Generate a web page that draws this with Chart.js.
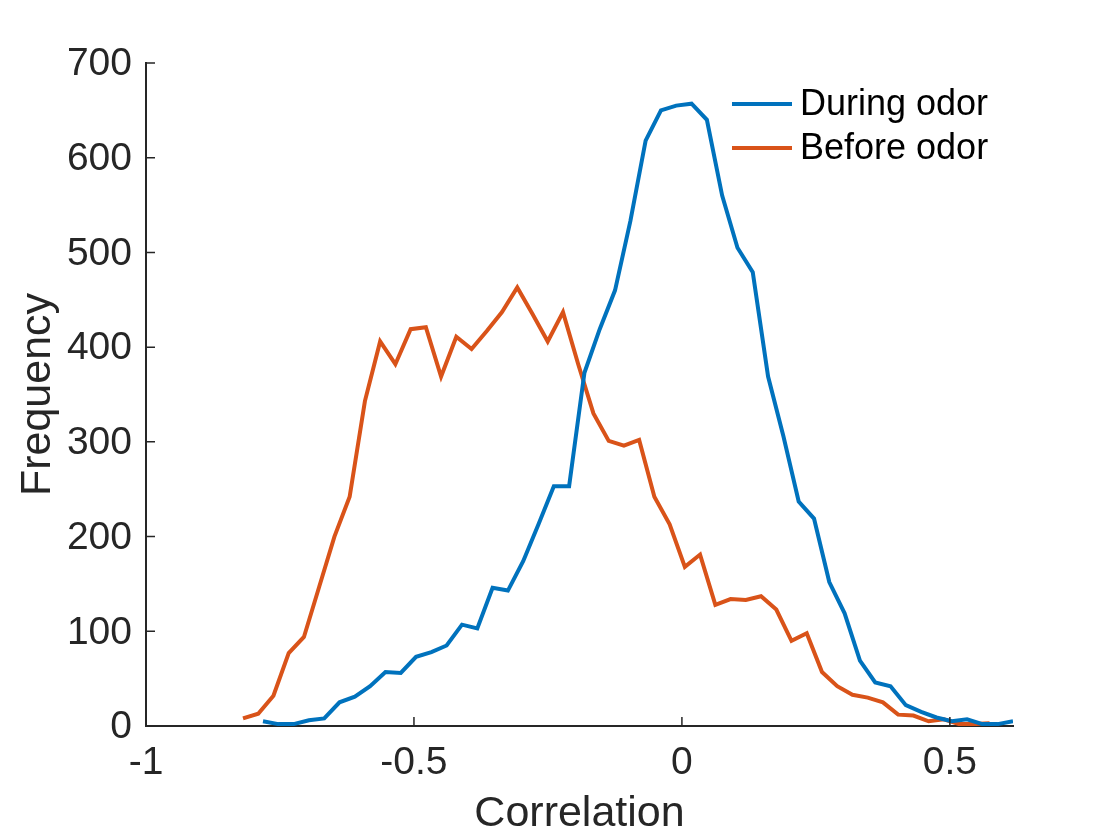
<!DOCTYPE html>
<html>
<head>
<meta charset="utf-8">
<title>Correlation histogram</title>
<script src="https://cdn.jsdelivr.net/npm/chart.js@4.4.0/dist/chart.umd.min.js"></script>
<style>
  html, body { margin: 0; padding: 0; background: #fff; }
  #wrap { width: 1120px; height: 840px; }
</style>
</head>
<body>
<div id="wrap"><canvas id="myChart" width="1120" height="840"></canvas></div>
<script>
// bin centres + counts
const duringX = [
  -0.7817, -0.7531, -0.7246, -0.696, -0.6674, -0.6389, -0.6103, -0.5818, -0.5532, -0.5246,
  -0.4961, -0.4675, -0.439, -0.4104, -0.3818, -0.3533, -0.3247, -0.2962, -0.2676, -0.239,
  -0.2105, -0.1819, -0.1534, -0.1248, -0.0962, -0.0677, -0.0391, -0.0106, 0.018, 0.0466,
  0.0751, 0.1037, 0.1322, 0.1608, 0.1894, 0.2179, 0.2465, 0.275, 0.3036, 0.3322,
  0.3607, 0.3893, 0.4178, 0.4464, 0.475, 0.5035, 0.5321, 0.5606, 0.5892, 0.6178,
];
const duringY = [
  5, 2, 2, 6, 8, 25, 31, 42, 57, 56,
  73, 78, 85, 107, 103, 146, 143, 174, 213, 253,
  253, 373, 419, 460, 533, 618, 650, 655, 657, 640,
  560, 505, 479, 369, 306, 237, 219, 152, 119, 69,
  46, 42, 22, 15, 9, 5, 7, 2, 2, 5,
];
const beforeX = [
  -0.819, -0.7906, -0.7622, -0.7337, -0.7053, -0.6768, -0.6484, -0.62, -0.5915, -0.5631,
  -0.5347, -0.5062, -0.4778, -0.4494, -0.421, -0.3925, -0.3641, -0.3357, -0.3072, -0.2788,
  -0.2504, -0.2219, -0.1935, -0.1651, -0.1366, -0.1082, -0.0798, -0.0514, -0.0229, 0.0055,
  0.0339, 0.0624, 0.0908, 0.1192, 0.1477, 0.1761, 0.2045, 0.2329, 0.2614, 0.2898,
  0.3182, 0.3467, 0.3751, 0.4035, 0.432, 0.4604, 0.4888, 0.5172, 0.5457, 0.5741,
];
const beforeY = [
  8, 13, 32, 77, 94, 147, 200, 242, 343, 406,
  382, 419, 421, 369, 411, 398, 417, 437, 463, 435,
  406, 437, 382, 330, 301, 296, 302, 242, 213, 168,
  181, 128, 134, 133, 137, 123, 90, 98, 57, 42,
  33, 30, 25, 12, 11, 5, 7, 2, 2, 3,
];
const xTicks = [-1, -0.5, 0, 0.5];
const yTicks = [0, 100, 200, 300, 400, 500, 600, 700];
const seriesNames = ["During odor", "Before odor"];

const axisColor = "#262626";
const fontFamily = "'Liberation Sans', Arial, sans-serif";

function toPoints(xs, ys) {
  return xs.map((x, i) => ({ x: x, y: ys[i] }));
}

// matlab style ticks: drawn inwards from the axis lines
const inwardTicks = {
  id: "inwardTicks",
  afterDraw(chart) {
    const { ctx, chartArea, scales } = chart;
    ctx.save();
    ctx.strokeStyle = axisColor;
    ctx.lineWidth = 1.5;
    ctx.beginPath();
    scales.x.ticks.forEach((t) => {
      const px = scales.x.getPixelForValue(t.value);
      ctx.moveTo(px, chartArea.bottom);
      ctx.lineTo(px, chartArea.bottom - 9);
    });
    scales.y.ticks.forEach((t) => {
      const py = scales.y.getPixelForValue(t.value);
      ctx.moveTo(chartArea.left, py);
      ctx.lineTo(chartArea.left + 9, py);
    });
    ctx.stroke();
    ctx.restore();
  },
};

// legend in the top right corner, no frame
const cornerLegend = {
  id: "cornerLegend",
  afterDraw(chart) {
    const { ctx, chartArea } = chart;
    ctx.save();
    ctx.font = `36px ${fontFamily}`;
    ctx.textBaseline = "middle";
    chart.data.datasets.forEach((ds, i) => {
      const y = chartArea.top + 41 + i * 44;
      const x0 = chartArea.right - 281;
      ctx.strokeStyle = ds.borderColor;
      ctx.lineWidth = 4;
      ctx.beginPath();
      ctx.moveTo(x0, y);
      ctx.lineTo(x0 + 60, y);
      ctx.stroke();
      ctx.fillStyle = "#000";
      ctx.fillText(ds.label, x0 + 68, y + 1.5);
    });
    ctx.restore();
  },
};

const createdChart = new Chart(document.querySelector("#myChart"), {
  type: "line",
  data: {
    datasets: [
      {
        label: seriesNames[0],
        data: toPoints(duringX, duringY),
        borderColor: "#0072BD",
        borderWidth: 4,
        pointRadius: 0,
        tension: 0,
        fill: false,
      },
      {
        label: seriesNames[1],
        data: toPoints(beforeX, beforeY),
        borderColor: "#D95319",
        borderWidth: 4,
        pointRadius: 0,
        tension: 0,
        fill: false,
      },
    ],
  },
  options: {
    responsive: false,
    animation: false,
    devicePixelRatio: 1,
    layout: { padding: { top: 63, right: 107, left: 0, bottom: 0 } },
    plugins: {
      legend: { display: false },
      tooltip: { enabled: false },
    },
    scales: {
      x: {
        type: "linear",
        min: -1,
        max: 0.6178,
        afterBuildTicks: (scale) => {
          scale.ticks = xTicks.map((v) => ({ value: v }));
        },
        afterFit: (scale) => {
          scale.height = 114;
        },
        grid: { display: false, drawTicks: false },
        border: { display: true, color: axisColor, width: 2 },
        ticks: {
          color: axisColor,
          padding: 14,
          maxRotation: 0,
          font: { family: fontFamily, size: 39 },
          callback: (v) => String(v),
        },
        title: {
          display: true,
          text: "Correlation",
          color: axisColor,
          padding: { top: 0, bottom: 0 },
          font: { family: fontFamily, size: 43 },
        },
      },
      y: {
        min: 0,
        max: 700,
        afterBuildTicks: (scale) => {
          scale.ticks = yTicks.map((v) => ({ value: v }));
        },
        afterFit: (scale) => {
          scale.width = 146;
        },
        grid: { display: false, drawTicks: false },
        border: { display: true, color: axisColor, width: 2 },
        ticks: {
          color: axisColor,
          padding: 14,
          labelOffset: 1.5,
          font: { family: fontFamily, size: 39 },
        },
        title: {
          display: true,
          text: "Frequency",
          color: axisColor,
          padding: { top: 12, bottom: 0 },
          font: { family: fontFamily, size: 43 },
        },
      },
    },
  },
  plugins: [inwardTicks, cornerLegend],
});
</script>
</body>
</html>
